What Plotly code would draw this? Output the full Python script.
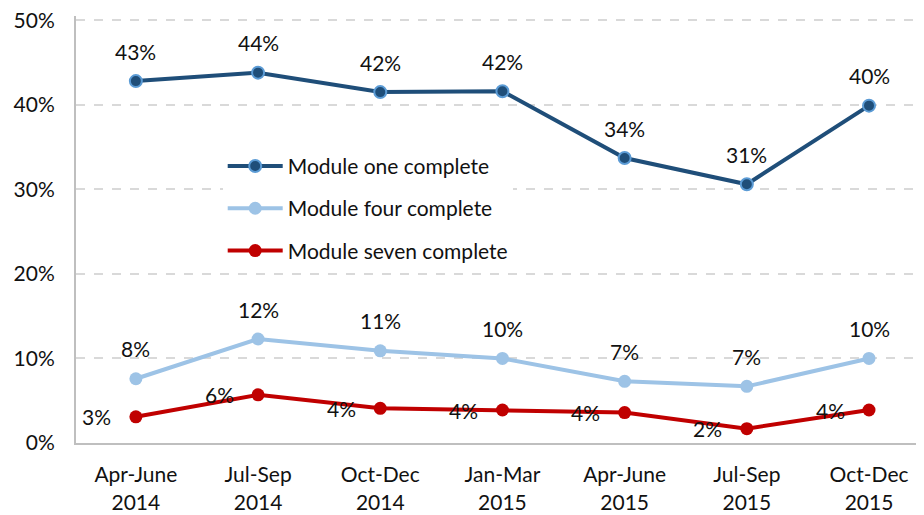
import plotly.graph_objects as go

categories = ["Apr-June<br>2014", "Jul-Sep<br>2014", "Oct-Dec<br>2014", "Jan-Mar<br>2015",
              "Apr-June<br>2015", "Jul-Sep<br>2015", "Oct-Dec<br>2015"]
module_one = [0.428, 0.438, 0.415, 0.416, 0.337, 0.306, 0.399]
module_four = [0.076, 0.123, 0.109, 0.100, 0.073, 0.067, 0.100]
module_seven = [0.031, 0.057, 0.041, 0.039, 0.036, 0.017, 0.039]

FONT = "Lato"
FS = 21
x = list(range(len(categories)))

def lbl(vals):
    return [f"{round(v*100):.0f}%" for v in vals]

fig = go.Figure()
fig.add_trace(go.Scatter(
    x=x, y=module_one, name="Module one complete", legendgroup="a",
    mode="lines+markers",
    line=dict(color="#1F4E79", width=4),
    marker=dict(color="#1F4E79", size=12, line=dict(color="#5B9BD5", width=2)),
    cliponaxis=False))
fig.add_trace(go.Scatter(
    x=x, y=module_four, name="Module four complete", legendgroup="b",
    mode="lines+markers",
    line=dict(color="#9DC3E6", width=4),
    marker=dict(color="#9DC3E6", size=13),
    cliponaxis=False))
fig.add_trace(go.Scatter(
    x=x, y=module_seven, name="Module seven complete", legendgroup="c",
    mode="lines+markers",
    line=dict(color="#C00000", width=4),
    marker=dict(color="#C00000", size=13),
    cliponaxis=False))

annotations = []
for vals in (module_one, module_four):
    for xi, v, t in zip(x, vals, lbl(vals)):
        annotations.append(dict(x=xi, y=v, text=t, showarrow=False, yshift=30,
                                font=dict(size=FS, family=FONT, color="#111111")))
for xi, v, t in zip(x, module_seven, lbl(module_seven)):
    annotations.append(dict(x=xi, y=v, text=t, showarrow=False, xshift=-39, yshift=0,
                            font=dict(size=FS, family=FONT, color="#111111")))

fig.update_layout(
    width=924, height=515,
    margin=dict(l=68, r=8, t=8, b=80, autoexpand=False),
    paper_bgcolor="white", plot_bgcolor="white",
    font=dict(family=FONT, size=FS, color="#111111"),
    showlegend=True,
    legend=dict(x=0.173, y=0.696, xanchor="left", yanchor="top",
                bgcolor="white", font=dict(size=FS, family=FONT),
                itemwidth=55, tracegroupgap=12),
    annotations=annotations,
    xaxis=dict(tickmode="array", tickvals=x, ticktext=categories,
               range=[-0.49, 6.45], showgrid=False, showline=True,
               linecolor="#BFBFBF", linewidth=2, ticks="", zeroline=False,
               automargin=False,
               ticklabelstandoff=12, tickfont=dict(size=FS, family=FONT)),
    yaxis=dict(range=[0, 0.505], tickvals=[0, 0.1, 0.2, 0.3, 0.4, 0.5],
               tickformat=".0%", showgrid=True, gridcolor="#D9D9D9",
               griddash="dash", gridwidth=1.5, showline=True,
               linecolor="#BFBFBF", linewidth=2, ticks="", zeroline=False,
               ticklabeloverflow="allow", automargin=False,
               ticklabelstandoff=15, tickfont=dict(size=FS, family=FONT)),
)

fig.write_html("out.html")
